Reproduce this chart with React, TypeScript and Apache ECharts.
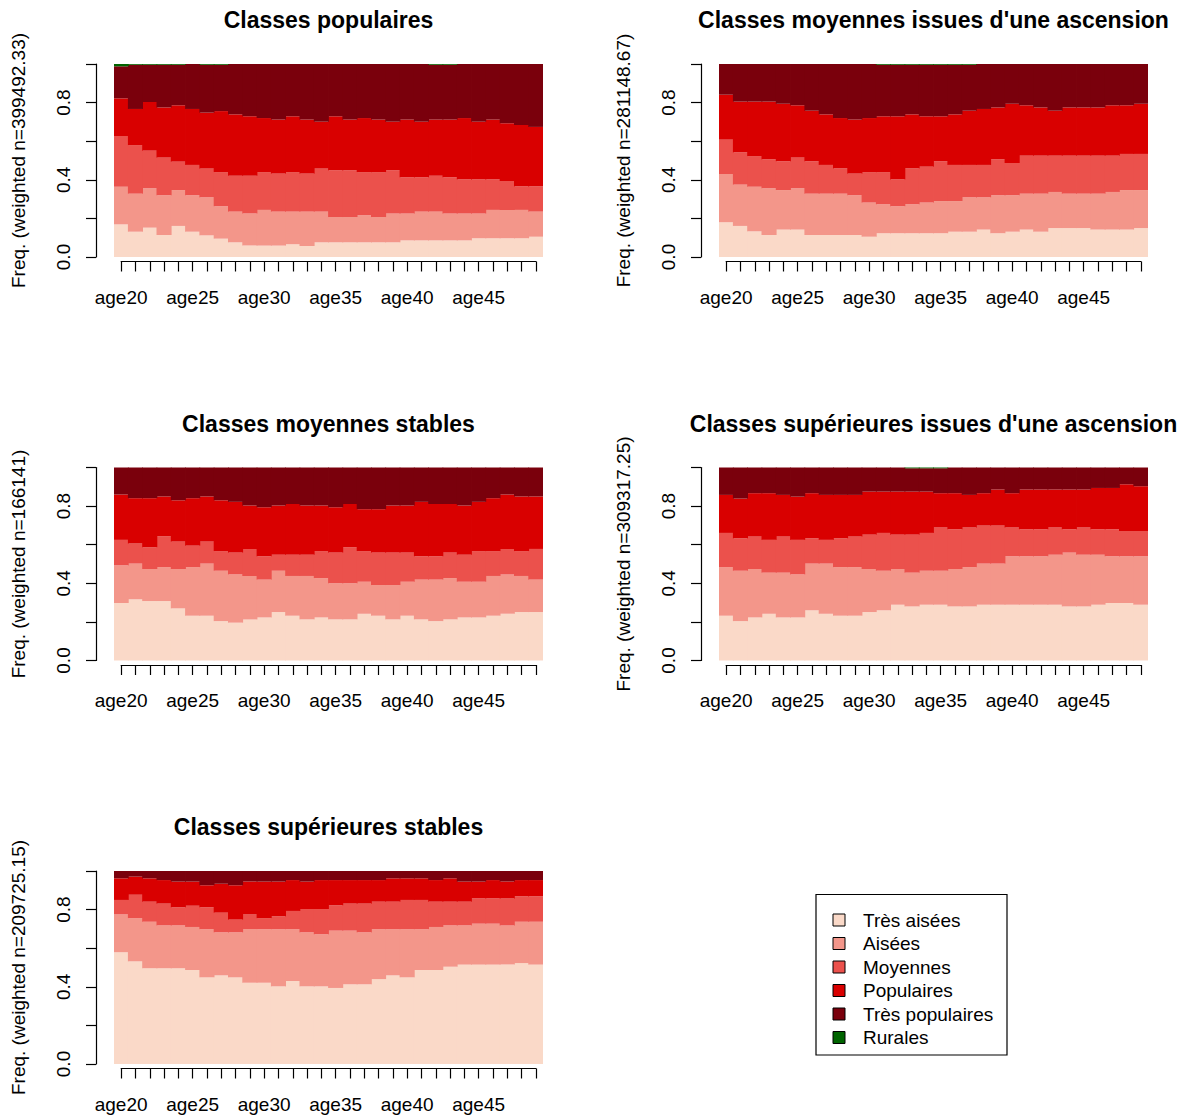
import React, { useEffect, useRef } from "react";
import * as echarts from "echarts";

// ---------------- categories / states ----------------
const AGES = [
  "age20", "age21", "age22", "age23", "age24", "age25", "age26", "age27", "age28", "age29",
  "age30", "age31", "age32", "age33", "age34", "age35", "age36", "age37", "age38", "age39",
  "age40", "age41", "age42", "age43", "age44", "age45", "age46", "age47", "age48", "age49",
];
const STATES = ["Très aisées", "Aisées", "Moyennes", "Populaires", "Très populaires", "Rurales"];
const COLORS = ["#FAD9C8", "#F3968A", "#EB514C", "#D90000", "#7A000C", "#006400"];
const Y_TICK_LABELS = ["0.0", "0.4", "0.8"];

// ---------------- Panel 1: Classes populaires ----------------
const POP_TA = [0.169,0.131,0.152,0.114,0.161,0.131,0.112,0.095,0.076,0.059,0.059,0.059,0.066,0.057,0.076,0.076,0.076,0.076,0.076,0.076,0.086,0.086,0.086,0.086,0.086,0.097,0.097,0.097,0.097,0.105];
const POP_AI = [0.195,0.197,0.204,0.206,0.186,0.189,0.197,0.168,0.159,0.166,0.185,0.176,0.169,0.178,0.159,0.131,0.131,0.140,0.131,0.149,0.139,0.149,0.149,0.139,0.139,0.128,0.147,0.147,0.147,0.130];
const POP_MO = [0.263,0.252,0.195,0.195,0.147,0.157,0.149,0.177,0.186,0.196,0.196,0.197,0.205,0.197,0.223,0.242,0.242,0.224,0.233,0.224,0.188,0.178,0.186,0.188,0.177,0.177,0.158,0.150,0.122,0.131];
const POP_PO = [0.195,0.187,0.252,0.260,0.292,0.290,0.290,0.316,0.318,0.308,0.280,0.280,0.289,0.280,0.243,0.280,0.263,0.280,0.272,0.252,0.299,0.288,0.291,0.299,0.318,0.299,0.310,0.299,0.318,0.308];
const POP_TP = [0.166,0.229,0.193,0.221,0.210,0.233,0.248,0.240,0.261,0.271,0.280,0.288,0.271,0.288,0.299,0.271,0.288,0.280,0.288,0.299,0.288,0.299,0.284,0.284,0.280,0.299,0.288,0.307,0.316,0.326];
const POP_RU = [0.012,0.004,0.004,0.004,0.004,0,0.004,0.004,0,0,0,0,0,0,0,0,0,0,0,0,0,0,0.004,0.004,0,0,0,0,0,0];

// ---------------- Panel 2: Classes moyennes issues d'une ascension ----------------
const MASC_TA = [0.180,0.161,0.133,0.114,0.142,0.142,0.114,0.114,0.114,0.114,0.105,0.123,0.123,0.123,0.123,0.123,0.131,0.131,0.142,0.123,0.131,0.142,0.131,0.150,0.150,0.150,0.142,0.142,0.142,0.150];
const MASC_AI = [0.250,0.214,0.231,0.242,0.205,0.214,0.214,0.214,0.214,0.206,0.177,0.150,0.140,0.150,0.159,0.167,0.159,0.178,0.167,0.197,0.189,0.186,0.197,0.187,0.178,0.178,0.186,0.195,0.205,0.197];
const MASC_MO = [0.178,0.167,0.159,0.150,0.149,0.159,0.168,0.149,0.131,0.112,0.158,0.167,0.139,0.186,0.186,0.206,0.187,0.168,0.168,0.186,0.167,0.197,0.197,0.188,0.197,0.197,0.197,0.188,0.187,0.187];
const MASC_PO = [0.233,0.263,0.282,0.299,0.298,0.271,0.262,0.262,0.261,0.280,0.280,0.289,0.327,0.280,0.261,0.233,0.262,0.281,0.290,0.269,0.307,0.261,0.250,0.233,0.250,0.250,0.250,0.261,0.252,0.260];
const MASC_TP = [0.159,0.195,0.195,0.195,0.206,0.214,0.242,0.261,0.280,0.288,0.280,0.267,0.267,0.257,0.267,0.267,0.257,0.238,0.233,0.225,0.206,0.214,0.225,0.242,0.225,0.225,0.225,0.214,0.214,0.206];
const MASC_RU = [0,0,0,0,0,0,0,0,0,0,0,0.004,0.004,0.004,0.004,0.004,0.004,0.004,0,0,0,0,0,0,0,0,0,0,0,0];

// ---------------- Panel 3: Classes moyennes stables ----------------
const MST_TA = [0.298,0.317,0.308,0.308,0.270,0.232,0.232,0.204,0.196,0.213,0.223,0.251,0.232,0.213,0.223,0.213,0.213,0.242,0.232,0.213,0.232,0.213,0.204,0.213,0.223,0.223,0.232,0.242,0.251,0.251];
const MST_AI = [0.195,0.185,0.166,0.176,0.204,0.252,0.270,0.261,0.250,0.225,0.196,0.214,0.206,0.225,0.204,0.187,0.187,0.166,0.159,0.178,0.176,0.206,0.215,0.214,0.185,0.185,0.206,0.204,0.187,0.168];
const MST_MO = [0.132,0.104,0.113,0.160,0.142,0.111,0.114,0.102,0.113,0.140,0.121,0.083,0.110,0.110,0.140,0.159,0.187,0.159,0.168,0.168,0.151,0.121,0.121,0.132,0.140,0.159,0.129,0.132,0.129,0.159];
const MST_PO = [0.235,0.235,0.254,0.206,0.214,0.246,0.234,0.263,0.263,0.225,0.254,0.255,0.263,0.255,0.236,0.235,0.224,0.217,0.225,0.244,0.244,0.282,0.271,0.252,0.255,0.255,0.274,0.282,0.283,0.272];
const MST_TP = [0.140,0.159,0.159,0.150,0.170,0.159,0.150,0.170,0.178,0.197,0.206,0.197,0.189,0.197,0.197,0.206,0.189,0.216,0.216,0.197,0.197,0.178,0.189,0.189,0.197,0.178,0.159,0.140,0.150,0.150];
const MST_RU = [0,0,0,0,0,0,0,0,0,0,0,0,0,0,0,0,0,0,0,0,0,0,0,0,0,0,0,0,0,0];

// ---------------- Panel 4: Classes supérieures issues d'une ascension ----------------
const SASC_TA = [0.232,0.204,0.223,0.242,0.223,0.223,0.260,0.242,0.232,0.232,0.251,0.260,0.289,0.280,0.289,0.289,0.280,0.280,0.289,0.289,0.289,0.289,0.289,0.289,0.280,0.280,0.289,0.298,0.298,0.289];
const SASC_AI = [0.252,0.261,0.251,0.213,0.232,0.223,0.242,0.260,0.252,0.252,0.223,0.205,0.185,0.175,0.176,0.176,0.194,0.204,0.213,0.213,0.251,0.251,0.251,0.259,0.279,0.268,0.259,0.242,0.242,0.251];
const SASC_MO = [0.177,0.168,0.168,0.170,0.187,0.179,0.131,0.123,0.149,0.158,0.178,0.196,0.178,0.197,0.196,0.224,0.206,0.205,0.197,0.197,0.149,0.140,0.140,0.141,0.121,0.141,0.132,0.140,0.131,0.131];
const SASC_PO = [0.197,0.206,0.225,0.242,0.216,0.224,0.234,0.233,0.225,0.216,0.223,0.214,0.223,0.223,0.214,0.178,0.187,0.169,0.168,0.187,0.178,0.206,0.206,0.197,0.206,0.197,0.214,0.214,0.242,0.232];
const SASC_TP = [0.142,0.161,0.133,0.133,0.142,0.151,0.133,0.142,0.142,0.142,0.125,0.125,0.125,0.121,0.121,0.129,0.133,0.142,0.133,0.114,0.133,0.114,0.114,0.114,0.114,0.114,0.106,0.106,0.087,0.097];
const SASC_RU = [0,0,0,0,0,0,0,0,0,0,0,0,0,0.004,0.004,0.004,0,0,0,0,0,0,0,0,0,0,0,0,0,0];

// ---------------- Panel 5: Classes supérieures stables ----------------
const SST_TA = [0.579,0.532,0.496,0.496,0.496,0.487,0.449,0.459,0.449,0.421,0.421,0.402,0.430,0.402,0.402,0.394,0.413,0.413,0.440,0.459,0.449,0.487,0.487,0.504,0.515,0.515,0.515,0.515,0.523,0.515];
const SST_AI = [0.196,0.224,0.241,0.222,0.222,0.223,0.250,0.223,0.233,0.278,0.278,0.297,0.269,0.280,0.270,0.297,0.278,0.269,0.259,0.240,0.250,0.212,0.223,0.214,0.203,0.212,0.212,0.203,0.214,0.222];
const SST_MO = [0.075,0.121,0.104,0.113,0.094,0.110,0.113,0.102,0.066,0.076,0.057,0.066,0.094,0.121,0.131,0.131,0.140,0.149,0.142,0.142,0.151,0.151,0.131,0.123,0.123,0.131,0.131,0.140,0.132,0.132];
const SST_PO = [0.112,0.094,0.121,0.122,0.133,0.125,0.114,0.150,0.178,0.170,0.189,0.180,0.160,0.142,0.150,0.131,0.122,0.122,0.112,0.121,0.112,0.112,0.112,0.121,0.104,0.087,0.095,0.087,0.084,0.084];
const SST_TP = [0.038,0.029,0.038,0.047,0.055,0.055,0.074,0.066,0.074,0.055,0.055,0.055,0.047,0.055,0.047,0.047,0.047,0.047,0.047,0.038,0.038,0.038,0.047,0.038,0.055,0.055,0.047,0.055,0.047,0.047];
const SST_RU = [0,0,0,0,0,0,0,0,0,0,0,0,0,0,0,0,0,0,0,0,0,0,0,0,0,0,0,0,0,0];

const PANELS = [
  { title: "Classes populaires", ylabel: "Freq. (weighted n=399492.33)", data: [POP_TA, POP_AI, POP_MO, POP_PO, POP_TP, POP_RU] },
  { title: "Classes moyennes issues d'une ascension", ylabel: "Freq. (weighted n=281148.67)", data: [MASC_TA, MASC_AI, MASC_MO, MASC_PO, MASC_TP, MASC_RU] },
  { title: "Classes moyennes stables", ylabel: "Freq. (weighted n=166141)", data: [MST_TA, MST_AI, MST_MO, MST_PO, MST_TP, MST_RU] },
  { title: "Classes supérieures issues d'une ascension", ylabel: "Freq. (weighted n=309317.25)", data: [SASC_TA, SASC_AI, SASC_MO, SASC_PO, SASC_TP, SASC_RU] },
  { title: "Classes supérieures stables", ylabel: "Freq. (weighted n=209725.15)", data: [SST_TA, SST_AI, SST_MO, SST_PO, SST_TP, SST_RU] },
];

// ---------------- layout (positions only) ----------------
const PW = 429;
const PH = 193;
const LAYOUT = [
  { left: 114, top: 64 },
  { left: 719, top: 64 },
  { left: 114, top: 467.5 },
  { left: 719, top: 467.5 },
  { left: 114, top: 871 },
];
const FONT = "'Liberation Sans', Arial, Helvetica, sans-serif";
const AX = { color: "#000", width: 1.2 };
// bars slightly wider than their band so neighbouring bars overlap (no anti-alias seams)
const BAR_W = PW / 30 + 0.8;

export default function App() {
  const ref = useRef<HTMLDivElement>(null);

  useEffect(() => {
    document.body.style.margin = "0";
    const chart = echarts.init(ref.current as HTMLDivElement, null, { renderer: "svg" });

    const grid: any[] = [];
    const xAxis: any[] = [];
    const yAxis: any[] = [];
    const series: any[] = [];
    const title: any[] = [];

    PANELS.forEach((p, k) => {
      const L = LAYOUT[k];
      const gi = grid.length;
      grid.push({ left: L.left, top: L.top, width: PW, height: PH });
      xAxis.push({ type: "category", gridIndex: gi, data: AGES, show: false, boundaryGap: true });
      yAxis.push({
        type: "value",
        gridIndex: gi,
        min: 0,
        max: 1,
        interval: 0.2,
        offset: 18,
        name: p.ylabel,
        nameLocation: "middle",
        nameGap: 68,
        nameTextStyle: { fontSize: 19, color: "#000", fontFamily: FONT },
        axisLine: { show: true, lineStyle: AX },
        axisTick: { show: true, length: 10, lineStyle: AX },
        axisLabel: {
          rotate: 90,
          margin: 23,
          fontSize: 19,
          color: "#000",
          fontFamily: FONT,
          formatter: (v: number) => {
            const t = Math.round(v * 10);
            return t % 4 === 0 ? Y_TICK_LABELS[t / 4] : "";
          },
        },
        splitLine: { show: false },
      });

      // axis-only grid: x axis spanning first to last bar centre (R style)
      const ai = grid.length;
      const half = PW / AGES.length / 2;
      grid.push({ left: L.left + half, top: L.top + PH + 3.5, width: PW - 2 * half, height: 1 });
      xAxis.push({
        type: "category",
        gridIndex: ai,
        data: AGES,
        boundaryGap: false,
        axisLine: { show: true, lineStyle: AX },
        axisTick: { show: true, interval: 0, length: 10, lineStyle: AX },
        axisLabel: { interval: 4, margin: 26, fontSize: 19, color: "#000", fontFamily: FONT },
        splitLine: { show: false },
      });
      yAxis.push({ type: "value", gridIndex: ai, show: false, min: 0, max: 1 });

      p.data.forEach((arr, s) => {
        if (arr.every((v) => v === 0)) return;
        series.push({
          type: "bar",
          name: STATES[s],
          xAxisIndex: gi,
          yAxisIndex: gi,
          stack: "panel" + k,
          data: arr.map((v) => (v === 0 ? "-" : v)),
          barWidth: BAR_W,
          itemStyle: { color: COLORS[s], borderWidth: 0 },
          emphasis: { disabled: true },
          silent: true,
        });
      });

      title.push({
        text: p.title,
        left: L.left + PW / 2,
        top: L.top - 55.5,
        textAlign: "center",
        padding: 0,
        textStyle: { fontSize: 23, fontWeight: "bold", color: "#000", fontFamily: FONT },
      });
    });

    const legendEls: any[] = [
      {
        type: "rect",
        shape: { x: 816, y: 894.5, width: 191, height: 160.5 },
        style: { fill: "#fff", stroke: "#000", lineWidth: 1.2 },
      },
    ];
    STATES.forEach((s, i) => {
      legendEls.push({
        type: "rect",
        shape: { x: 833, y: 914 + 23.5 * i, width: 12, height: 12 },
        style: { fill: COLORS[i], stroke: "#000", lineWidth: 1 },
      });
      legendEls.push({
        type: "text",
        x: 863,
        y: 920 + 23.5 * i,
        style: { text: s, fontSize: 19, fill: "#000", fontFamily: FONT, verticalAlign: "middle", align: "left" },
      });
    });

    chart.setOption({
      animation: false,
      backgroundColor: "#fff",
      textStyle: { fontFamily: FONT },
      title,
      grid,
      xAxis,
      yAxis,
      series,
      graphic: legendEls,
    });

    return () => chart.dispose();
  }, []);

  return <div ref={ref} style={{ width: 1185, height: 1115 }} />;
}
